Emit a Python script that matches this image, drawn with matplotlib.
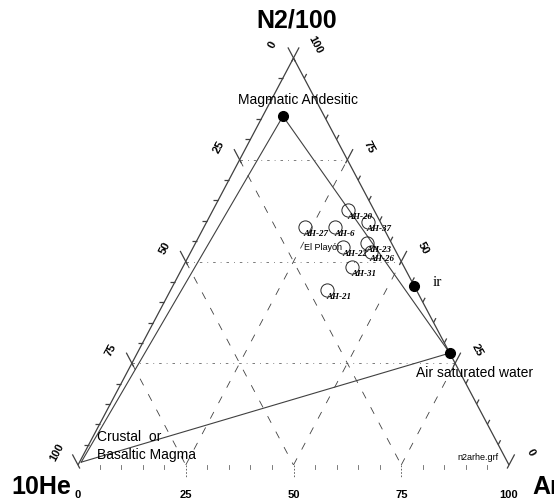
import numpy as np
import matplotlib.pyplot as plt

# figure size in pixels and triangle corners (pixels, y measured from top)
W, H = 554, 501
LEFT, RIGHT, BASE, APEX = 78, 509, 465, 58
SX = RIGHT - LEFT
SY = BASE - APEX

# samples: N2/100 and Ar as percent of (N2/100 + 10He + Ar)
sample_names = ['AH-20', 'AH-37', 'AH-27', 'AH-6', 'AH-22', 'AH-23', 'AH-26', 'AH-31', 'AH-21']
sample_n2 = [62.7, 59.7, 58.5, 58.5, 53.6, 54.5, 52.3, 48.6, 43.0]
sample_ar = [31.3, 37.4, 23.4, 30.4, 34.7, 39.8, 41.8, 39.3, 36.3]
sample_he = [100 - n - a for n, a in zip(sample_n2, sample_ar)]

# end members
ref_names = ['Magmatic Andesitic', 'Air', 'Air saturated water', 'Crustal']
ref_n2 = [85.7, 44.0, 27.5, 0.7]
ref_ar = [4.7, 56.0, 72.5, 0.4]
ref_he = [100 - n - a for n, a in zip(ref_n2, ref_ar)]

grid_vals = [25, 50, 75]
tick_labels = ['0', '25', '50', '75', '100']


def xy(he, n2, ar):
    t = he + n2 + ar
    return (ar + n2 / 2.0) / t, n2 / t


def shift(p, d, length):
    # move a data point by `length` pixels along pixel direction d (y up)
    d = np.array(d, float)
    d = d / np.hypot(*d)
    return p[0] + d[0] * length / SX, p[1] + d[1] * length / SY


def seg(ax, p, q, **kw):
    ax.plot([p[0], q[0]], [p[1], q[1]], **kw)


def ftext(px, py, s, **kw):
    fig.text(px / W, 1 - py / H, s, **kw)


fig = plt.figure(figsize=(W / 100, H / 100), dpi=100)
ax = fig.add_axes([LEFT / W, (H - BASE) / H, SX / W, SY / H])
ax.set_xlim(0, 1)
ax.set_ylim(0, 1)
ax.axis('off')

edge = dict(color='0.25', lw=0.9, solid_capstyle='butt')

# triangle frame: left and right solid, base dash-dot
seg(ax, xy(100, 0, 0), xy(0, 100, 0), **edge)
seg(ax, xy(0, 0, 100), xy(0, 100, 0), **edge)
seg(ax, xy(100, 0, 0), xy(0, 0, 100), color='0.4', lw=0.6, ls=(0, (4, 4, 1, 4)))

# grid lines
for v in grid_vals:
    # constant N2 (horizontal)
    seg(ax, xy(100 - v, v, 0), xy(0, v, 100 - v), color='0.4', lw=0.6, ls=(0, (3, 6, 1, 6)))
    # constant He
    seg(ax, xy(v, 100 - v, 0), xy(v, 0, 100 - v), color='0.25', lw=0.6, ls=(0, (9, 12)))
    # constant Ar
    seg(ax, xy(100 - v, 0, v), xy(0, 100 - v, v), color='0.25', lw=0.6, ls=(0, (9, 12)))

left_dir = (-0.5 * SX, SY)
right_dir = (0.5 * SX, SY)

# ticks
for v in range(0, 101, 5):
    pl = xy(v, 100 - v, 0)
    pr = xy(0, v, 100 - v)
    pb = xy(100 - v, 0, v)
    if v % 25 == 0:
        seg(ax, shift(pl, left_dir, -4), shift(pl, left_dir, 12), clip_on=False, **edge)
        seg(ax, shift(pr, right_dir, -4), shift(pr, right_dir, 12), clip_on=False, **edge)
        if 0 < v < 100:
            seg(ax, pb, shift(pb, (0, -1), 13), color='0.3', lw=0.6,
                ls=(0, (2, 2)), clip_on=False)
    else:
        seg(ax, pl, shift(pl, (-1, 0), 5), clip_on=False, **edge)
        seg(ax, pr, shift(pr, right_dir, 5), clip_on=False, **edge)
        seg(ax, pb, shift(pb, (0, -1), 4), color='0.4', lw=0.6, clip_on=False)

# axis tick labels
lab = dict(fontsize=8, fontweight='bold', family='Liberation Sans',
           textcoords='offset pixels', ha='center', va='center')
for i, s in enumerate(tick_labels):
    v = i * 25
    ax.annotate(s, xy(v, 100 - v, 0), xytext=(-21, 13), rotation=62, **lab)
    ax.annotate(s, xy(0, v, 100 - v), xytext=(22, 13), rotation=-62, **lab)
    ax.annotate(s, xy(100 - v, 0, v), xytext=(0, -30), **lab)

# mixing triangle between end members
mag = xy(ref_he[0], ref_n2[0], ref_ar[0])
asw = xy(ref_he[2], ref_n2[2], ref_ar[2])
crust = xy(ref_he[3], ref_n2[3], ref_ar[3])
line = dict(color='0.25', lw=0.8)
seg(ax, mag, crust, **line)
seg(ax, mag, asw, **line)
seg(ax, crust, asw, **line)

# end member dots
for he, n2, ar in zip(ref_he[:3], ref_n2[:3], ref_ar[:3]):
    x, y = xy(he, n2, ar)
    ax.plot(x, y, 'o', color='black', ms=7, zorder=5)

# samples
for name, he, n2, ar in zip(sample_names, sample_he, sample_n2, sample_ar):
    x, y = xy(he, n2, ar)
    ax.plot(x, y, 'o', mfc='none', mec='0.15', mew=0.7, ms=9.5, zorder=4)
    ax.annotate(name, (x, y), xytext=(-1, -7), textcoords='offset pixels',
                ha='left', va='center', fontsize=6.5, fontweight='bold',
                style='italic', family='Liberation Serif', zorder=6)

# texts
ftext(297, 21, 'N2/100', fontsize=18, fontweight='bold', family='Liberation Sans',
      ha='center', va='center')
ftext(41, 487, '10He', fontsize=18, fontweight='bold', family='Liberation Sans',
      ha='center', va='center')
ftext(532, 487, 'Ar', fontsize=18, fontweight='bold', family='Liberation Sans',
      ha='left', va='center')
ftext(298, 100, 'Magmatic Andesitic', fontsize=10, family='Liberation Sans',
      ha='center', va='center')
ftext(416, 373, 'Air saturated water', fontsize=10, family='Liberation Sans',
      ha='left', va='center')
ftext(97, 437, 'Crustal  or', fontsize=10, family='Liberation Sans',
      ha='left', va='center')
ftext(97, 455, 'Basaltic Magma', fontsize=10, family='Liberation Sans',
      ha='left', va='center')
ftext(323, 248, 'El Playón', fontsize=6.5, family='Liberation Sans',
      ha='center', va='center')
ftext(437, 283, 'ir', fontsize=11, family='Liberation Serif',
      ha='center', va='center')
ftext(478, 457, 'n2arhe.grf', fontsize=6.5, family='Liberation Sans',
      ha='center', va='center')

fig.savefig('out.png', dpi=100)
